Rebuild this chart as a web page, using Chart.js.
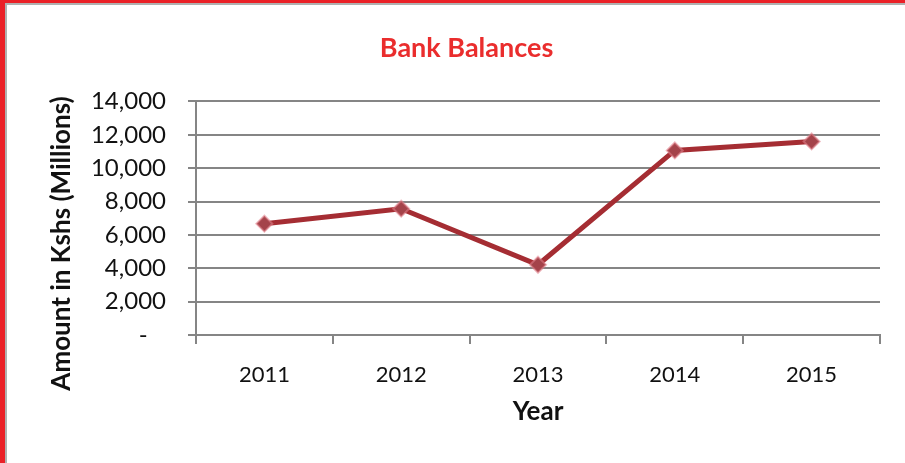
<!DOCTYPE html>
<html>
<head>
<meta charset="utf-8">
<script src="https://cdn.jsdelivr.net/npm/chart.js@4"></script>
<style>
  html, body { margin: 0; padding: 0; background: #fff; }
  #wrap { position: relative; width: 905px; height: 463px; overflow: hidden; }
  #frame { position: absolute; left: 0; top: 0; width: 905px; height: 463px; box-sizing: border-box;
           border-left: 5px solid #ea2027; border-top: 3px solid #ea2027;
           box-shadow: inset 2px 2px 0 #b0b0b0; pointer-events: none; }
  canvas { position: absolute; left: 0; top: 0; }
</style>
</head>
<body>
<div id="wrap">
  <canvas id="bankChart" width="905" height="463"></canvas>
  <div id="frame"></div>
</div>
<script>
// chart data
const years = ['2011', '2012', '2013', '2014', '2015'];
const balances = [6670, 7570, 4210, 11060, 11600]; // Kshs millions
const yTicks = [0, 2000, 4000, 6000, 8000, 10000, 12000, 14000];

const fontFamily = 'Lato, "Open Sans", sans-serif';
const gridGray = '#858585';

const ctx = document.getElementById('bankChart');
new Chart(ctx, {
  type: 'line',
  data: {
    labels: years,
    datasets: [{
      label: 'Bank Balances',
      data: balances,
      borderColor: '#a52d33',
      borderWidth: 5,
      pointStyle: 'rectRot',
      pointRadius: 8,
      pointBackgroundColor: '#a4434a',
      pointBorderColor: 'rgba(225,130,140,0.55)',
      pointBorderWidth: 2,
      tension: 0
    }]
  },
  options: {
    responsive: false,
    animation: false,
    layout: { padding: { left: 40, right: 25, top: 0, bottom: 0 } },
    plugins: {
      legend: { display: false },
      tooltip: { enabled: false },
      title: {
        display: true,
        text: '  Bank Balances',
        color: '#ea2d2d',
        font: { family: fontFamily, size: 27, weight: 'bold' },
        padding: { top: 32, bottom: 37 }
      }
    },
    scales: {
      x: {
        type: 'category',
        offset: true,
        grid: {
          offset: true,
          drawOnChartArea: false,
          drawTicks: true,
          tickLength: 9,
          color: gridGray,
          lineWidth: 2
        },
        border: { display: true, color: gridGray, width: 2 },
        ticks: {
          color: '#111',
          font: { family: fontFamily, size: 22 },
          padding: 18,
          maxRotation: 0
        },
        title: {
          display: true,
          text: 'Year',
          color: '#111',
          font: { family: fontFamily, size: 26, weight: 'bold' },
          padding: { top: 0, bottom: 36 }
        },
        afterFit: (scale) => { scale.height = 128; }
      },
      y: {
        min: 0,
        max: 14000,
        afterBuildTicks: (scale) => { scale.ticks = yTicks.map(v => ({ value: v })); },
        grid: {
          color: gridGray,
          lineWidth: 2,
          tickLength: 8
        },
        border: { display: true, color: gridGray, width: 2 },
        ticks: {
          color: '#111',
          font: { family: fontFamily, size: 24 },
          padding: 22,
          callback: (v) => v === 0 ? '-   ' : v.toLocaleString('en-US')
        },
        title: {
          display: true,
          // trailing spaces push the rotated title down like the original
          text: 'Amount in Kshs (Millions)        ',
          color: '#111',
          font: { family: fontFamily, size: 26, weight: 'bold' },
          padding: { top: 6, bottom: 0 }
        },
        afterFit: (scale) => { scale.width = 156; }
      }
    }
  }
});
</script>
</body>
</html>
